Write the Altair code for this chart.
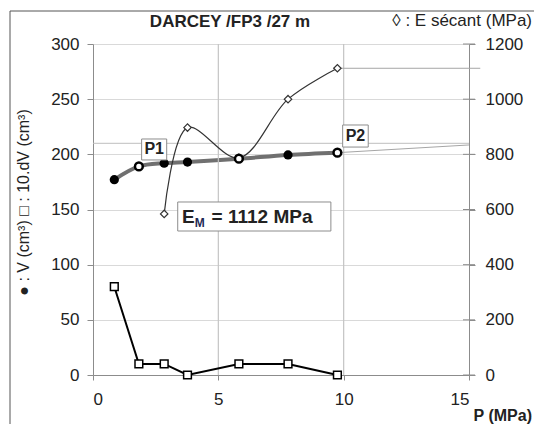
import altair as alt
import pandas as pd

# ---- data ----
P = [0.85, 1.83, 2.84, 3.77, 5.82, 7.78, 9.75]          # pressure (MPa)
V = [177, 189, 192, 193, 196, 199.5, 201.5]              # volume (cm3)
DV10 = [80, 10, 10, 0, 10, 10, 0]                        # 10.dV (cm3)
HOLLOW = [False, True, False, False, True, False, True]  # P1 / P2 markers drawn open
P_E = [2.84, 3.77, 5.82, 7.78, 9.75]
E_SEC = [584, 897, 787, 1000, 1112]                      # E secant (MPa)
E_M = 1112

X_TICKS = [0, 5, 10, 15]
X_GRID = [5, 10]
Y_TICKS = [0, 50, 100, 150, 200, 250, 300]
R_TICKS = [0, 200, 400, 600, 800, 1000, 1200]

# helper lines (read values)
H_LEFT_X = [0, 15]
H_LEFT_Y = [210, 210]
SLOPE_X = [9.75, 15]
SLOPE_Y = [201.5, 208.5]
E_H_X = [9.75, 15.45]
E_H_Y = [1112, 1112]

# annotation boxes (data units, left axis)
BOX_LABEL = ["P1", "P2", "EM"]
BOX_X1 = [1.94, 9.96, 3.38]
BOX_X2 = [2.94, 10.98, 9.49]
BOX_Y1 = [194.9, 206.6, 130.5]
BOX_Y2 = [213.9, 226.6, 156.8]

FONT = "Liberation Sans"
GRID = "#d9d9d9"
AXC = "#8c8c8c"
TXT = "#222222"

df = pd.DataFrame({"P": P, "V": V, "dV": DV10, "hollow": HOLLOW})
dfE = pd.DataFrame({"P": P_E, "E": E_SEC})

xs = alt.Scale(domain=[0, 15], nice=False, zero=False)
ys = alt.Scale(domain=[0, 300], nice=False)
ysr = alt.Scale(domain=[0, 1200], nice=False)

x_axis = alt.Axis(values=X_TICKS, grid=False, domainColor=AXC,
                  tickColor=AXC, tickSize=5, labelPadding=11, labelFontSize=17,
                  labelFont=FONT, labelColor=TXT, title="")
left_axis = alt.Axis(orient="left", values=Y_TICKS, grid=True, gridColor=GRID,
                     domainColor=AXC, tickColor=AXC, tickSize=6, labelPadding=8,
                     labelFontSize=17, labelFont=FONT, labelColor=TXT,
                     title="● : V (cm³)  □ : 10.dV (cm³)", titleFont=FONT, titleFontSize=16,
                     titleFontWeight="normal", titleColor=TXT, titleX=-70, titleY=158,
                     titleAngle=270, titleBaseline="middle", titleAlign="center")
right_axis = alt.Axis(orient="right", values=R_TICKS, grid=False,
                      domainColor=AXC, tickColor=AXC, tickSize=6, labelPadding=10,
                      labelFontSize=17, labelFont=FONT, labelColor=TXT, title="", format="d")


def X(field):
    # same axis definition everywhere so the shared x axis merges cleanly
    return alt.X(field, scale=xs, axis=x_axis)


one = pd.DataFrame({"a": [0]})

xgrid = alt.Chart(pd.DataFrame({"x": X_GRID, "y0": [0, 0], "y1": [300, 300]})).mark_rule(
    color="#c4c4c4", strokeWidth=1.2).encode(
    x=X("x:Q"), y=alt.Y("y0:Q", scale=ys, axis=None), y2="y1:Q")

# crossing ticks on the right axis
rticks = alt.Chart(pd.DataFrame({"x": [15] * len(R_TICKS), "v": R_TICKS})).mark_tick(
    orient="horizontal", size=12, thickness=1, color=AXC, opacity=1).encode(
    x=X("x:Q"), y=alt.Y("v:Q", scale=ysr, axis=None))

frame_v = alt.Chart(one).mark_rule(color="#555555", strokeWidth=1).encode(
    x=alt.value(-83), y=alt.value(-33), y2=alt.value(700))
frame_h = alt.Chart(one).mark_rule(color="#555555", strokeWidth=1).encode(
    x=alt.value(-83), x2=alt.value(700), y=alt.value(-33))

hl = alt.Chart(pd.DataFrame({"x": [H_LEFT_X[0]], "x2": [H_LEFT_X[1]], "y": [H_LEFT_Y[0]]})).mark_rule(
    color="#bfbfbf", strokeWidth=1).encode(
    x=X("x:Q"), x2="x2:Q", y=alt.Y("y:Q", scale=ys, axis=None))

sl = alt.Chart(pd.DataFrame({"x": [SLOPE_X[0]], "x2": [SLOPE_X[1]], "y": [SLOPE_Y[0]], "y2": [SLOPE_Y[1]]})).mark_rule(
    color="#a6a6a6", strokeWidth=1).encode(
    x=X("x:Q"), x2="x2:Q", y=alt.Y("y:Q", scale=ys, axis=None), y2="y2:Q")

v_line = alt.Chart(df).mark_line(interpolate="catmull-rom", color="#707070", strokeWidth=4).encode(
    x=X("P:Q"), y=alt.Y("V:Q", scale=ys, axis=left_axis))

dv_line = alt.Chart(df).mark_line(color="black", strokeWidth=2).encode(
    x=X("P:Q"), y=alt.Y("dV:Q", scale=ys, axis=None))
dv_pts = alt.Chart(df).mark_point(shape="square", filled=True, fill="white", stroke="black",
                                  strokeWidth=1.5, size=60, opacity=1).encode(
    x=X("P:Q"), y=alt.Y("dV:Q", scale=ys, axis=None))

eh = alt.Chart(pd.DataFrame({"x": [E_H_X[0]], "x2": [E_H_X[1]], "y": [E_H_Y[0]]})).mark_rule(
    color="#a6a6a6", strokeWidth=1).encode(
    x=X("x:Q"), x2="x2:Q", y=alt.Y("y:Q", scale=ysr, axis=right_axis))
e_line = alt.Chart(dfE).mark_line(interpolate="catmull-rom", color="#333333", strokeWidth=1.2).encode(
    x=X("P:Q"), y=alt.Y("E:Q", scale=ysr, axis=None))
e_pts = alt.Chart(dfE).mark_point(shape="diamond", filled=True, fill="white", stroke="#333333",
                                  strokeWidth=1.2, size=55, opacity=1).encode(
    x=X("P:Q"), y=alt.Y("E:Q", scale=ysr, axis=None))

v_full = alt.Chart(df).transform_filter("!datum.hollow").mark_point(
    shape="circle", filled=True, color="black", size=85, opacity=1).encode(
    x=X("P:Q"), y=alt.Y("V:Q", scale=ys, axis=None))
v_open = alt.Chart(df).transform_filter("datum.hollow").mark_point(
    shape="circle", filled=True, fill="white", stroke="black", strokeWidth=2.5, size=60, opacity=1).encode(
    x=X("P:Q"), y=alt.Y("V:Q", scale=ys, axis=None))

boxes_df = pd.DataFrame({"lab": BOX_LABEL, "x1": BOX_X1, "x2": BOX_X2, "y1": BOX_Y1, "y2": BOX_Y2})
boxes = alt.Chart(boxes_df).mark_rect(fill="white", stroke="#8c8c8c", strokeWidth=1).encode(
    x=X("x1:Q"), x2="x2:Q",
    y=alt.Y("y1:Q", scale=ys, axis=None), y2="y2:Q")

ptxt_df = pd.DataFrame({"t": ["P1", "P2"], "x": [2.44, 10.47], "y": [204.4, 216.6]})
ptxt = alt.Chart(ptxt_df).mark_text(font=FONT, fontSize=16, fontWeight="bold", color=TXT,
                                    align="center", baseline="middle").encode(
    x=X("x:Q"), y=alt.Y("y:Q", scale=ys, axis=None), text="t:N")

em_e = alt.Chart(pd.DataFrame({"t": ["E"], "x": [3.55], "y": [137.5]})).mark_text(
    font=FONT, fontSize=19, fontWeight="bold", color=TXT, align="left", baseline="alphabetic").encode(
    x=X("x:Q"), y=alt.Y("y:Q", scale=ys, axis=None), text="t:N")
em_m = alt.Chart(pd.DataFrame({"t": ["M"], "x": [4.06], "y": [133.8]})).mark_text(
    font=FONT, fontSize=12, fontWeight="bold", color="#1f2a55", align="left", baseline="alphabetic").encode(
    x=X("x:Q"), y=alt.Y("y:Q", scale=ys, axis=None), text="t:N")
em_rest = alt.Chart(pd.DataFrame({"t": [f"= {E_M} MPa"], "x": [4.73], "y": [137.5]})).mark_text(
    font=FONT, fontSize=19, fontWeight="bold", color=TXT, align="left", baseline="alphabetic").encode(
    x=X("x:Q"), y=alt.Y("y:Q", scale=ys, axis=None), text="t:N")

title = alt.Chart(pd.DataFrame({"t": ["DARCEY /FP3 /27 m"]})).mark_text(
    font=FONT, fontSize=17, fontWeight="bold", color=TXT, align="center", baseline="alphabetic").encode(
    x=alt.value(137), y=alt.value(-17), text="t:N")
etitle = alt.Chart(pd.DataFrame({"t": ["◊ : E sécant (MPa)"]})).mark_text(
    font=FONT, fontSize=17, color=TXT, align="right", baseline="alphabetic").encode(
    x=alt.value(439), y=alt.value(-18), text="t:N")
xtitle = alt.Chart(pd.DataFrame({"t": ["P (MPa)"]})).mark_text(
    font=FONT, fontSize=16, fontWeight="bold", color=TXT, align="right", baseline="alphabetic").encode(
    x=alt.value(439), y=alt.value(376.5), text="t:N")

chart = alt.layer(
    v_line, xgrid, eh, rticks, frame_v, frame_h, hl, sl, dv_line, dv_pts,
    e_line, e_pts, v_full, v_open, boxes, ptxt, em_e, em_m, em_rest,
    title, etitle, xtitle,
).resolve_scale(y="independent").properties(
    width=376, height=331,
    padding={"left": 85, "top": 36, "right": 65, "bottom": 49},
    autosize=alt.AutoSizeParams(type="none"),
).configure(background="white", view=alt.ViewConfig(stroke=None))

chart.save("out.html", embed_options={"renderer": "svg", "actions": False})
